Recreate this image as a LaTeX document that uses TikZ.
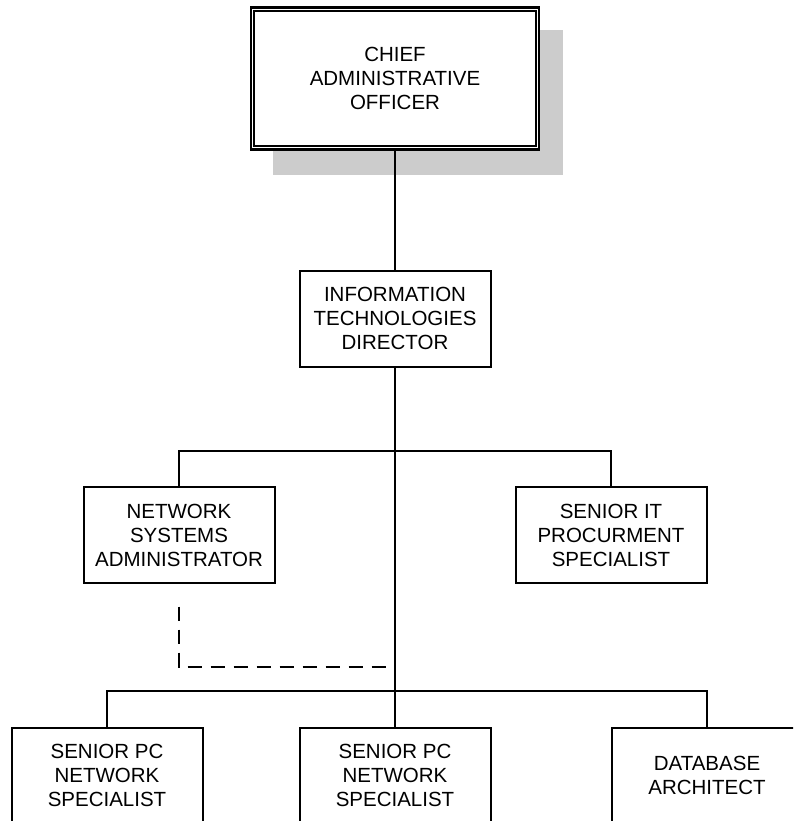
\documentclass[tikz,border=0pt]{standalone}
\usepackage{fontspec}
\setmainfont{Liberation Sans}
\definecolor{shadowgray}{HTML}{CCCCCC}
\begin{document}
\begin{tikzpicture}[x=1pt,y=-1pt,
  unit/.style={draw, rectangle, fill=white, line width=2pt, align=center,
    inner sep=0pt, minimum width=191pt, minimum height=96pt,
    font=\fontsize{20.5}{24}\selectfont},
  chief/.style={unit, line width=2.5pt, minimum width=288pt, minimum height=142pt},
  link/.style={line width=2pt},
  liaison/.style={line width=2pt, dash pattern=on 14.7pt off 8.3pt}]

\useasboundingbox (0,0) rectangle (793,821);
\clip (0,0) rectangle (793,821);
\fill[white] (0,0) rectangle (793,821);

% drop shadow behind the top box
\fill[shadowgray] (273,30) rectangle (563,175);

% boxes
\node[chief] (cao) at (395,78.5) {CHIEF\\ADMINISTRATIVE\\OFFICER};
\draw[line width=1.6pt] ([shift={(4.5,4.5)}]cao.north west)
  rectangle ([shift={(-4.5,-4.5)}]cao.south east);

\node[unit] (itd)  at (395,318.7) {INFORMATION\\TECHNOLOGIES\\DIRECTOR};
\node[unit] (nsa)  at (179,535)   {NETWORK\\SYSTEMS\\ADMINISTRATOR};
\node[unit] (sips) at (611,535)   {SENIOR IT\\PROCURMENT\\SPECIALIST};
\node[unit] (ps1)  at (107,775.5) {SENIOR PC\\NETWORK\\SPECIALIST};
\node[unit] (ps2)  at (395,775.5) {SENIOR PC\\NETWORK\\SPECIALIST};
\node[unit] (dba)  at (707,775.5) {DATABASE\\ARCHITECT};

% branch points on the trunk
\coordinate (j1) at (395,451);
\coordinate (j2) at (395,691);

% solid reporting lines
\draw[link] (cao.south) -- (itd.north);
\draw[link] (itd.south) -- (j2);
\draw[link] (nsa.north) |- (j1) -| (sips.north);
\draw[link] (ps1.north) |- (j2) -| (dba.north);
\draw[link] (j2) -- (ps2.north);

% dotted-line relationship
\coordinate (d1) at (179,606.7);
\coordinate (d2) at (387,667);
\draw[liaison] (d1) |- (d2);
\end{tikzpicture}
\end{document}
